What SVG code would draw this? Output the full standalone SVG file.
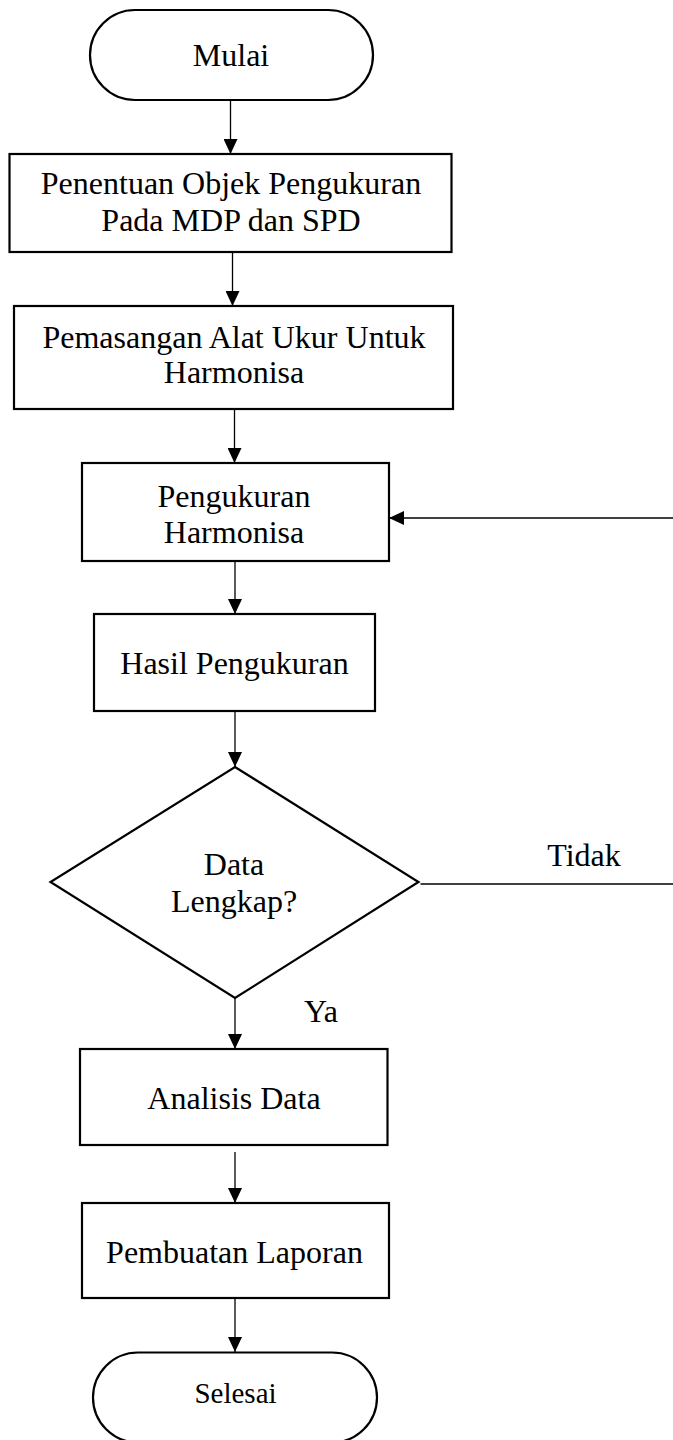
<svg xmlns="http://www.w3.org/2000/svg" width="673" height="1440" viewBox="0 0 673 1440">
<style>
.s{fill:#fff;stroke:#000;stroke-width:2.2}
.t{font-family:"Liberation Serif","Times New Roman",serif;font-size:32px;fill:#000;text-anchor:middle}
.c{fill:none;stroke:#000;stroke-width:1.3}
</style>
<defs>
<marker id="ah" markerWidth="15" markerHeight="14" refX="15" refY="7" orient="auto" markerUnits="userSpaceOnUse">
<path d="M0,0 L15,7 L0,14 Z" fill="#000"/>
</marker>
</defs>
<rect width="673" height="1440" fill="#fff"/>
<g id="connectors">
<line class="c" x1="230.5" y1="100" x2="230.5" y2="154" marker-end="url(#ah)"/>
<line class="c" x1="232.5" y1="252" x2="232.5" y2="306" marker-end="url(#ah)"/>
<line class="c" x1="234.5" y1="409" x2="234.5" y2="463" marker-end="url(#ah)"/>
<line class="c" x1="235" y1="561" x2="235" y2="614" marker-end="url(#ah)"/>
<line class="c" x1="235" y1="711" x2="235" y2="767" marker-end="url(#ah)"/>
<line class="c" x1="235" y1="998" x2="235" y2="1049" marker-end="url(#ah)"/>
<line class="c" x1="235" y1="1152" x2="235" y2="1203" marker-end="url(#ah)"/>
<line class="c" x1="235" y1="1298" x2="235" y2="1352" marker-end="url(#ah)"/>
<line class="c" x1="420.5" y1="884" x2="673" y2="884"/>
<line class="c" x1="673" y1="518" x2="389" y2="518" marker-end="url(#ah)"/>
<text class="t" x="584" y="866">Tidak</text>
<text class="t" x="321" y="1022">Ya</text>
</g>
<g id="mulai">
<rect class="s" x="90" y="10" width="283" height="90" rx="45" ry="45"/>
<text class="t" x="231" y="66">Mulai</text>
</g>
<g id="penentuan">
<rect class="s" x="9.5" y="154" width="442" height="98"/>
<text class="t" x="231" y="194">Penentuan Objek Pengukuran</text>
<text class="t" x="231" y="231">Pada MDP dan SPD</text>
</g>
<g id="pemasangan">
<rect class="s" x="14" y="306" width="439" height="103"/>
<text class="t" x="234" y="348">Pemasangan Alat Ukur Untuk</text>
<text class="t" x="234" y="383">Harmonisa</text>
</g>
<g id="pengukuran">
<rect class="s" x="82" y="463" width="307" height="98"/>
<text class="t" x="234" y="507">Pengukuran</text>
<text class="t" x="234" y="543">Harmonisa</text>
</g>
<g id="hasil">
<rect class="s" x="94" y="614" width="281" height="97"/>
<text class="t" x="234.5" y="674">Hasil Pengukuran</text>
</g>
<g id="keputusan">
<polygon class="s" points="235,767 418.5,882 235,998 50.5,882"/>
<text class="t" x="234" y="875">Data</text>
<text class="t" x="234" y="912">Lengkap?</text>
</g>
<g id="analisis">
<rect class="s" x="80" y="1049" width="307.5" height="96"/>
<text class="t" x="234" y="1109">Analisis Data</text>
</g>
<g id="laporan">
<rect class="s" x="82" y="1203" width="307" height="95"/>
<text class="t" x="234.5" y="1263">Pembuatan Laporan</text>
</g>
<g id="selesai">
<rect class="s" x="93" y="1352.5" width="284" height="90" rx="45" ry="45"/>
<text class="t" x="235.5" y="1403" style="font-size:29px">Selesai</text>
</g>
</svg>
